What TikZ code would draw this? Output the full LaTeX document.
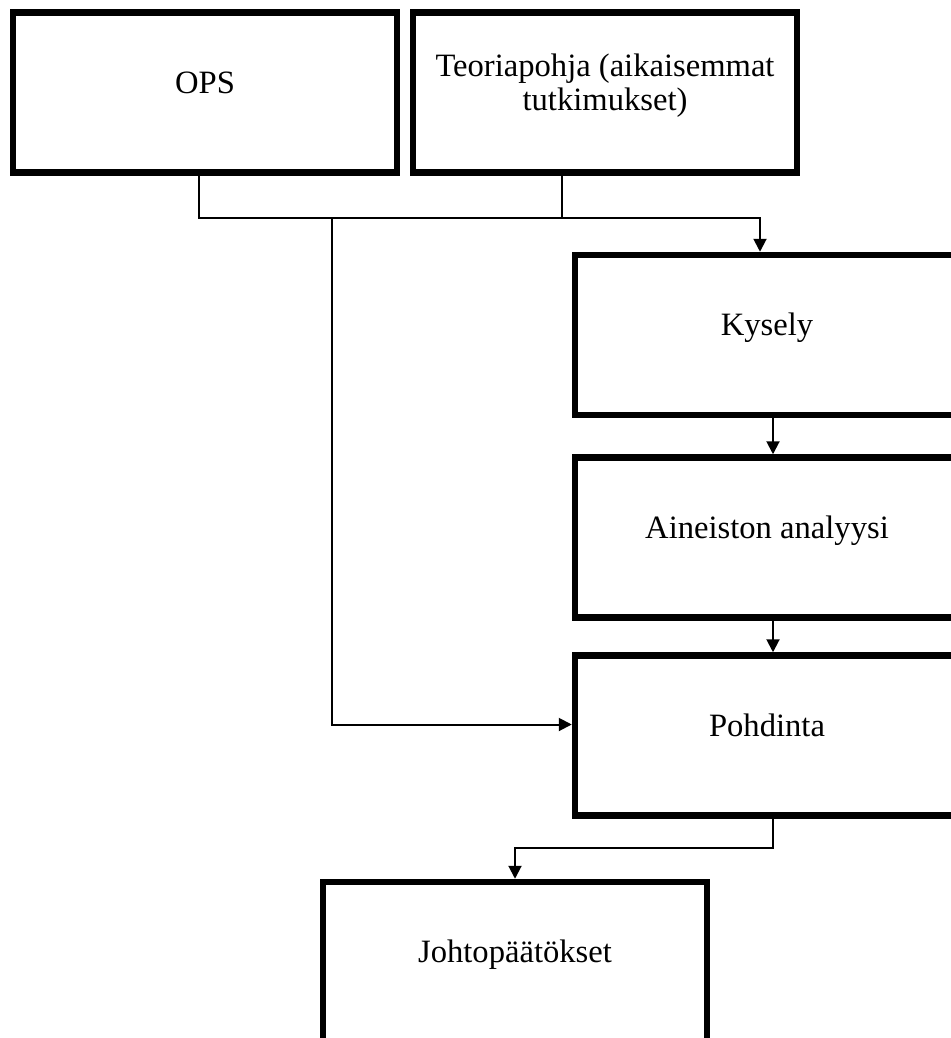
\documentclass[tikz,border=0pt]{standalone}
\usepackage{fontspec}
\setmainfont{Liberation Serif}
\usetikzlibrary{arrows.meta}

\tikzset{
  stage/.style={draw, line width=3.25pt, minimum width=192pt, minimum height=80pt,
    inner sep=0pt, font=\fontsize{16.3}{17.3}\selectfont},
  link/.style={line width=1pt},
  flow/.style={link, -{Triangle[length=6.5pt,width=6.5pt]}}
}
% text sits a little above the middle of each box
\newcommand{\boxtext}[1]{\raisebox{3pt}[\height][\depth]{\begin{tabular}{@{}c@{}}#1\end{tabular}}}

\begin{document}
\begin{tikzpicture}[x=0.5pt, y=-0.5pt]
  \useasboundingbox (0,0) rectangle (951,1038); % page frame
  \clip (0,0) rectangle (951,1038);

  % Starting points
  \node[stage] (ops) at (205,92.5) {\boxtext{OPS}};
  \node[stage] (teoria) at (605,92.5) {\boxtext{Teoriapohja (aikaisemmat\\tutkimukset)}};

  % Research steps
  \node[stage] (kysely) at (767,335) {\boxtext{Kysely}};
  \node[stage] (analyysi) at (767,537.5) {\boxtext{Aineiston analyysi}};
  \node[stage] (pohdinta) at (767,735.5) {\boxtext{Pohdinta}};
  \node[stage] (johto) at (515,962) {\boxtext{Johtopäätökset}};

  \coordinate (bus) at (332,218); % where the line to Pohdinta leaves

  % Joined line from both starting points
  \draw[flow] ([xshift=-3pt]ops.south) |- (bus) -| ([xshift=-3.5pt]kysely.north);
  \draw[link] ([xshift=-21.5pt]teoria.south) -- ([xshift=-21.5pt]teoria.south |- bus);
  \draw[flow] (bus) |- ([yshift=5.5pt]pohdinta.west); % straight to Pohdinta

  % Down the steps
  \draw[flow] ([xshift=3pt]kysely.south) -- ([xshift=3pt]analyysi.north);
  \draw[flow] ([xshift=3pt]analyysi.south) -- ([xshift=3pt]pohdinta.north);
  \draw[flow] ([xshift=3pt]pohdinta.south) -- ++(0,29) -| (johto.north);
\end{tikzpicture}
\end{document}
